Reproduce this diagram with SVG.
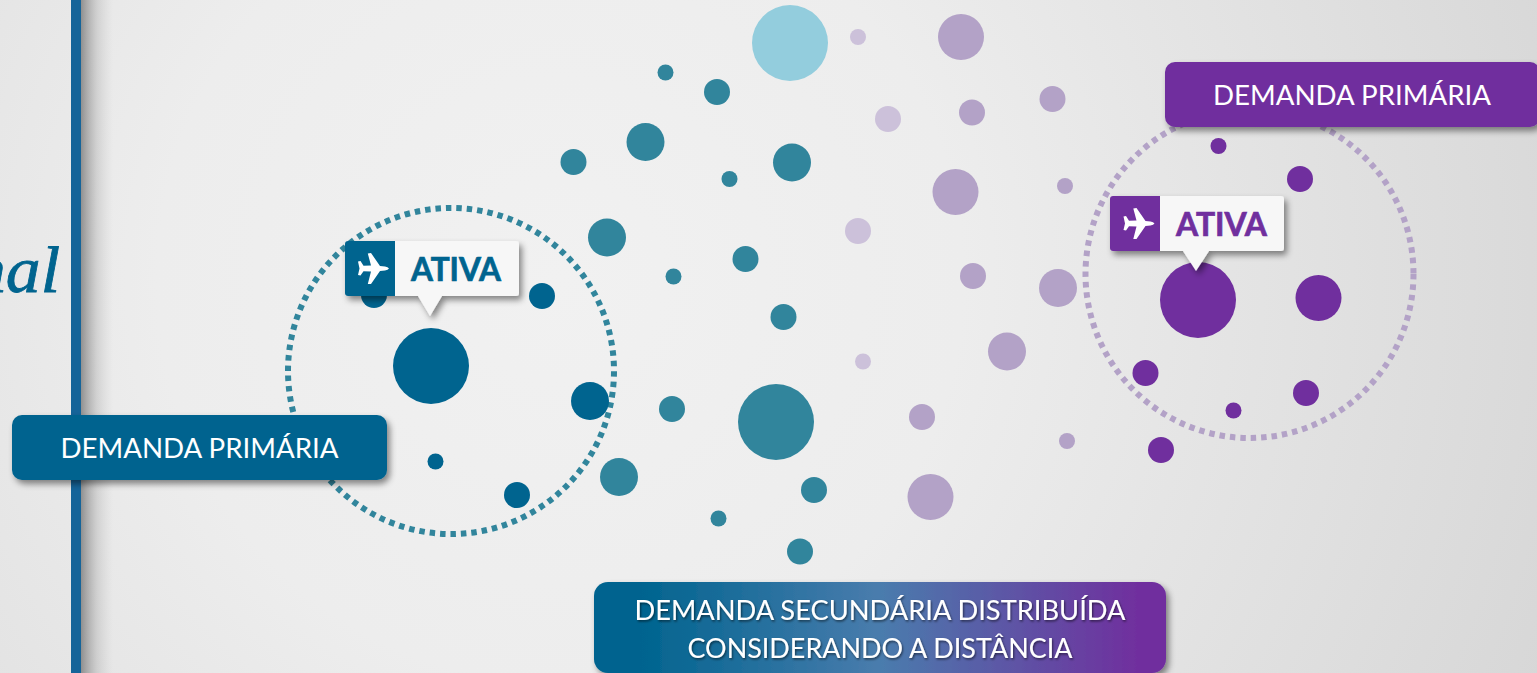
<svg xmlns="http://www.w3.org/2000/svg" width="1537" height="673" viewBox="0 0 1537 673">
<defs>
<radialGradient id="bg" gradientUnits="userSpaceOnUse" cx="560" cy="280" r="1150"><stop offset="0" stop-color="#f1f1f1"/><stop offset="0.35" stop-color="#ededed"/><stop offset="1" stop-color="#d4d4d4"/></radialGradient>
<linearGradient id="barShade" x1="0" x2="1" y1="0" y2="0"><stop offset="0" stop-color="#555" stop-opacity="0.6"/><stop offset="0.5" stop-color="#888" stop-opacity="0.25"/><stop offset="1" stop-color="#aaa" stop-opacity="0"/></linearGradient>
<linearGradient id="mix" x1="0" x2="1" y1="0" y2="0"><stop offset="0" stop-color="#00648f"/><stop offset="0.08" stop-color="#00648f"/><stop offset="0.5" stop-color="#4a7cad"/><stop offset="0.95" stop-color="#702f9e"/><stop offset="1" stop-color="#702f9e"/></linearGradient>
<filter id="sh" x="-15%" y="-30%" width="130%" height="170%"><feDropShadow dx="3" dy="4" stdDeviation="3" flood-color="#000" flood-opacity="0.45"/></filter>
<filter id="ts" x="-5%" y="-20%" width="110%" height="150%"><feDropShadow dx="1" dy="1.5" stdDeviation="1" flood-color="#000" flood-opacity="0.55"/></filter>
<path id="plane" d="M16 0 Q15 -1.6 12 -2 L7 -2.600 L-2 -15.500 L-5.200 -15 L-2 -3 L-9.500 -2.800 L-12.500 -7.500 L-15 -7 L-13.500 0 L-15 6.500 L-12.500 7 L-9.500 2.800 L-2 3 L-5.200 15.500 L-2 15.500 L7 2.600 L12 2 Q15 1.600 16 0 Z" fill="#fff"/>
</defs>
<style>
.teal{fill:#31859c}.blue{fill:#00648f}.purple{fill:#702f9e}.lilac{fill:#b3a2c7}.pale{fill:#ccc1da}.sky{fill:#93cddd}
.label{font-family:"Lato","Open Sans",sans-serif;font-size:27px;fill:#fff;text-anchor:middle}
.ativa{font-family:"Lato","Open Sans",sans-serif;font-size:31.500px;font-weight:700;text-anchor:middle;stroke-width:0.700}
.ring{fill:none;stroke-width:6;stroke-dasharray:5.500 4.950}
</style>
<rect id="background" width="1537" height="673" fill="url(#bg)"/>
<g id="sidebar">
<rect x="81" y="0" width="32" height="673" fill="url(#barShade)"/>
<rect x="71" y="0" width="10" height="673" fill="#156499"/>
<text x="60" y="292" text-anchor="end" font-family="Liberation Serif,serif" font-style="italic" font-size="65" textLength="89" lengthAdjust="spacingAndGlyphs" fill="#00648f" stroke="#00648f" stroke-width="0.800">nal</text>
</g>
<g id="connectors">
<circle class="ring" cx="451" cy="371" r="163" stroke="#31859c" transform="rotate(180 451 371)"/>
<circle class="ring" cx="1249.500" cy="274" r="164" stroke="#b3a2c7"/>
</g>
<g id="dots-primary-left">
<circle class="blue" cx="431" cy="366" r="38"/><circle class="blue" cx="374" cy="295" r="13"/><circle class="blue" cx="542" cy="296" r="13"/><circle class="blue" cx="590" cy="401" r="19"/><circle class="blue" cx="435.500" cy="461.500" r="8"/><circle class="blue" cx="517" cy="495" r="13"/>
</g>
<g id="dots-secondary-teal">
<circle class="teal" cx="665.500" cy="72.500" r="8"/><circle class="teal" cx="717" cy="92" r="13"/><circle class="teal" cx="645.500" cy="142" r="19"/><circle class="teal" cx="573.500" cy="162" r="13"/><circle class="teal" cx="729.500" cy="179" r="8"/><circle class="teal" cx="792" cy="162.500" r="19"/><circle class="teal" cx="607" cy="237.500" r="19"/><circle class="teal" cx="745.500" cy="259" r="13"/><circle class="teal" cx="673.500" cy="276.500" r="8"/><circle class="teal" cx="783.500" cy="317" r="13"/><circle class="teal" cx="672" cy="409" r="13"/><circle class="teal" cx="776" cy="422" r="38"/><circle class="teal" cx="619" cy="477" r="19"/><circle class="teal" cx="814" cy="490" r="13"/><circle class="teal" cx="718.500" cy="518.500" r="8"/><circle class="teal" cx="800" cy="551.500" r="13"/>
</g>
<circle id="dot-sky" class="sky" cx="790" cy="43" r="38"/>
<g id="dots-secondary-lilac">
<circle class="pale" cx="858" cy="37" r="8"/><circle class="lilac" cx="961" cy="37" r="23"/><circle class="lilac" cx="1052.500" cy="99" r="13"/><circle class="pale" cx="888" cy="119" r="13"/><circle class="lilac" cx="972" cy="112.500" r="13"/><circle class="lilac" cx="955.500" cy="192" r="23"/><circle class="lilac" cx="1065" cy="186" r="8"/><circle class="pale" cx="858" cy="231" r="13"/><circle class="lilac" cx="973" cy="276" r="13"/><circle class="lilac" cx="1058" cy="288" r="19"/><circle class="lilac" cx="1007" cy="351.500" r="19"/><circle class="pale" cx="863" cy="361.500" r="8"/><circle class="lilac" cx="922" cy="417" r="13"/><circle class="lilac" cx="1067" cy="441" r="8"/><circle class="lilac" cx="930.500" cy="497" r="23"/>
</g>
<g id="dots-primary-right">
<circle class="purple" cx="1218.500" cy="146" r="8"/><circle class="purple" cx="1300" cy="179" r="13"/><circle class="purple" cx="1198" cy="300" r="38"/><circle class="purple" cx="1318.500" cy="298" r="23"/><circle class="purple" cx="1145.500" cy="373" r="13"/><circle class="purple" cx="1306" cy="393" r="13"/><circle class="purple" cx="1233.500" cy="410.500" r="8"/><circle class="purple" cx="1161" cy="450" r="13"/>
</g>
<g id="label-primary-left">
<rect x="12" y="415" width="375" height="65" rx="10" fill="#00648f" filter="url(#sh)"/>
<text class="label" x="199.500" y="458" textLength="278" lengthAdjust="spacingAndGlyphs">DEMANDA PRIMÁRIA</text>
</g>
<g id="label-primary-right">
<rect x="1165" y="62" width="375" height="65" rx="10" fill="#702f9e" filter="url(#sh)"/>
<text class="label" x="1352" y="105" textLength="278" lengthAdjust="spacingAndGlyphs">DEMANDA PRIMÁRIA</text>
</g>
<g id="label-secondary">
<rect x="594" y="582" width="572" height="91" rx="14" fill="url(#mix)" filter="url(#sh)"/>
<g filter="url(#ts)">
<text class="label" x="880" y="620" textLength="491" lengthAdjust="spacingAndGlyphs">DEMANDA SECUNDÁRIA DISTRIBUÍDA</text>
<text class="label" x="880" y="658" textLength="385" lengthAdjust="spacingAndGlyphs">CONSIDERANDO A DISTÂNCIA</text>
</g>
</g>
<g id="badge-left">
<g filter="url(#sh)">
<path d="M348 241H516a3 3 0 0 1 3 3V293a3 3 0 0 1 -3 3H442L430 316 418 296H348a3 3 0 0 1 -3 -3V244a3 3 0 0 1 3 -3Z" fill="#f7f7f7"/>
</g>
<path d="M348 241H395V296H348a3 3 0 0 1 -3 -3V244a3 3 0 0 1 3 -3Z" fill="#00648f"/>
<use href="#plane" x="373" y="268.500"/>
<text class="ativa" x="456" y="281" fill="#00648f" stroke="#00648f" textLength="90" lengthAdjust="spacingAndGlyphs">ATIVA</text>
</g>
<g id="badge-right">
<g filter="url(#sh)">
<path d="M1113 196H1281a3 3 0 0 1 3 3V248a3 3 0 0 1 -3 3H1209L1196 271 1183 251H1113a3 3 0 0 1 -3 -3V199a3 3 0 0 1 3 -3Z" fill="#f7f7f7"/>
</g>
<path d="M1113 196H1160V251H1113a3 3 0 0 1 -3 -3V199a3 3 0 0 1 3 -3Z" fill="#702f9e"/>
<use href="#plane" x="1138.500" y="223.500"/>
<text class="ativa" x="1221.500" y="235.500" fill="#702f9e" stroke="#702f9e" textLength="91" lengthAdjust="spacingAndGlyphs">ATIVA</text>
</g>
</svg>
